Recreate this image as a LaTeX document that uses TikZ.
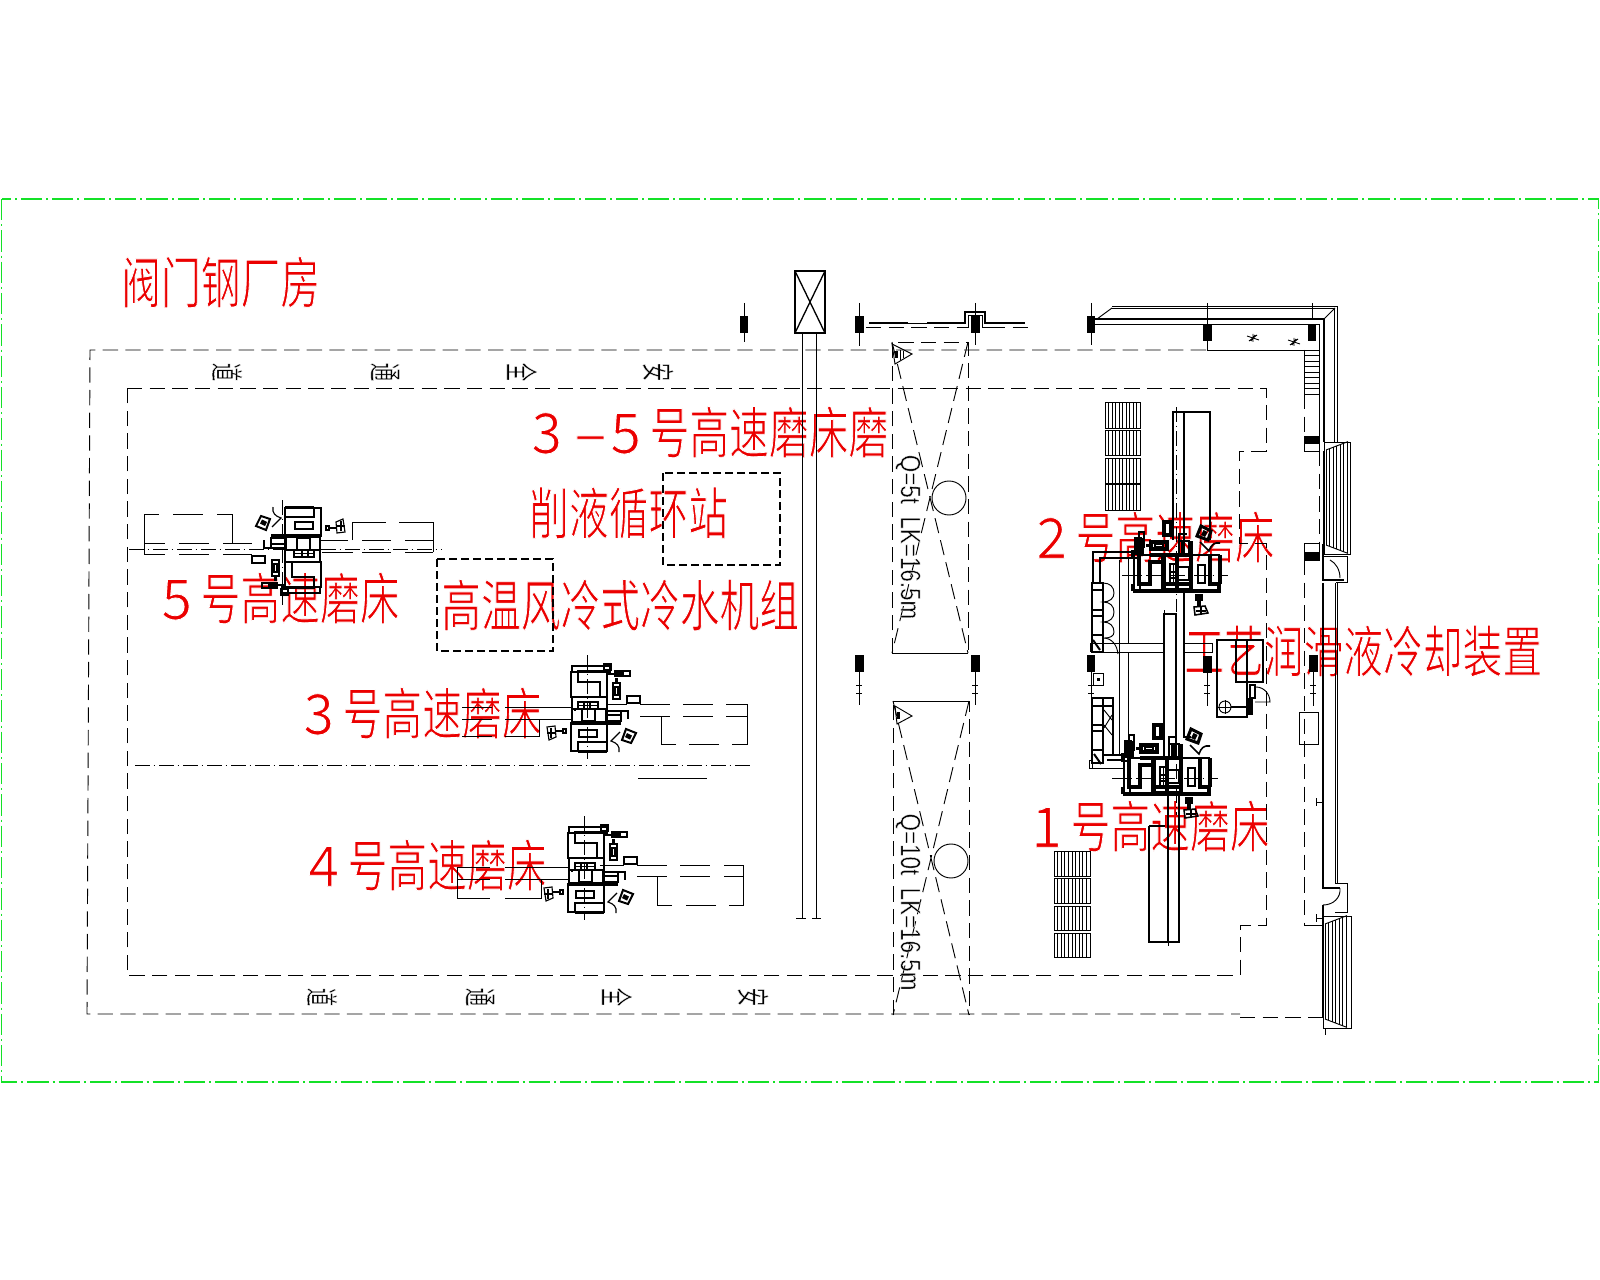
\documentclass[tikz,border=0pt]{standalone}
\usepackage{fontspec}
\setmainfont{Liberation Sans}
\newfontfamily\cjkred[FakeStretch=0.71]{Noto Sans CJK SC}
\newfontfamily\cjkblk{Noto Sans CJK SC}
\definecolor{cadgreen}{RGB}{20,225,40}
\definecolor{cadred}{RGB}{235,0,0}
\newcommand\slim[1]{\special{pdf:code 2 Tr 1 1 1 RG #1 w}}
\newcommand\dg[1]{\makebox[29.6pt][l]{\scalebox{1.4}[1]{\slim{0.6}#1}}\slim{0.6}}
\tikzset{
 th/.style={line width=0.7pt,black},
 tk/.style={line width=1.5pt,black},
 vk/.style={line width=2.6pt,black},
 gth/.style={line width=0.85pt,black},
 gtk/.style={line width=1.5pt,black},
 dsh/.style={line width=0.7pt,black,dash pattern=on 11.5pt off 5.5pt},
 ctr/.style={line width=0.6pt,black,dash pattern=on 11pt off 3pt on 1pt off 3pt},
 frm/.style={line width=0.9pt,cadgreen,dash pattern=on 16pt off 3pt on 1.5pt off 3pt},
 redlabel/.style={text=cadred,anchor=west,inner sep=0pt,font=\cjkred\fontsize{42}{42}\selectfont},
 lane/.style={inner sep=0pt,rotate=-90,xscale=.55,transform shape,font=\cjkblk\fontsize{25}{25}\selectfont},
 crane/.style={inner sep=0pt,rotate=-90,xscale=.8,transform shape,font=\fontsize{21}{21}\selectfont}
}
\newcommand\grinderbody{
 \draw[gth] (-16,-38) rectangle (20,-13);
 \draw[gth] (-15,-44) rectangle (23,-38);
 \draw[gth] (17,-46) rectangle (24,-40);
 \draw[gtk] (23,-39) -- (-9,-39) -- (-9,-28) -- (13,-28) -- (13,-13);
 \draw[gtk] (20,-28) -- (20,-13);
 \draw[gth] (-15,-13) rectangle (20,13);
 \draw[gth] (-9,-8) rectangle (11,-1);
 \draw[gth] (-9,-4.5) -- (11,-4.5) (-3,-8) -- (-3,-1) (3,-8) -- (3,-1);
 \draw[gtk] (-15,-1) -- (20,-1);
 \draw[gth] (-5,-1) rectangle (8,11);
 \draw[gtk] (-12,-1.5) -- (-12,0.5);
 \draw[gth] (-16,13) rectangle (20,41);
 \draw[gth] (-8,20) rectangle (10,27);
 \draw[gtk] (-9,41) -- (-9,32) -- (21,32);
 \draw[gtk] (-9,42) -- (20,42);
 \draw[vk] (-15,13) -- (34,13);
 \draw[gth] (19,1) rectangle (34,11);
 \draw[gth] (19,5) -- (34,5);
 \draw[gth] (34,1) -- (41,1) -- (41,9);
 \draw[gtk] (20,-36) -- (27,-36);
 \fill[black] (27,-40) rectangle (36,-33);
 \draw[gth] (36,-39) rectangle (43,-34);
 \draw[gtk] (26,-27) rectangle (33,-11);
 \fill[black] (28,-32) rectangle (31,-26);
 \draw[gth] (28,-23) rectangle (31,-15);
 \draw[gtk] (40,-14) rectangle (53,-7);
 \draw[gtk] (35,30) -- (39,19) -- (49,23) -- (44,33) -- cycle;
 \fill[black] (38,27) -- (40,23) -- (45,25.5) -- (43,29.5) -- cycle;
 \draw[gth] (33,22) -- (24,31) .. controls (30,33) and (33,36) .. (32,42);
 \draw[gth] (-40,17) -- (-32,16) -- (-31,27) -- (-38,30) -- cycle;
 \draw[gth] (-40,23) -- (-31,23) (-36,18) -- (-36,28);
 \draw[gtk] (-31,21) -- (-24,21);
 \draw[gtk] (-24,19) rectangle (-21,23);
}
\newcommand\grinder[4]{%
 \begin{scope}[shift={(#1,#2)},x={#3},y={#4}]\grinderbody\end{scope}}
\newcommand\heavygrinder[4]{%
 \begin{scope}[shift={(#1,#2)},x={#3},y={#4},
   gth/.style={line width=1.15pt,black},gtk/.style={line width=2.3pt,black}]
 \grinderbody
 \fill[black] (19,3) rectangle (35,7);
 \fill[black] (20,-44) rectangle (38,-36);
 \draw[gtk] (-15,-15) rectangle (20,13);
 \draw[gtk] (-16,-45) -- (-16,41) -- (-9,41);
 \draw[gtk] (-9,-13) -- (-9,13);
 \draw[gtk] (-16,-45) -- (-9,-45);
 \end{scope}}
\newcommand\pillar[3]{%
 \fill[black] ({#1-#3},#2) rectangle ({#1+#3},{#2+17});}
\newcommand\louver[4]{%
 \draw[th] (#1,#2) rectangle (#3,#4);
 \foreach \k in {1,...,9}{\draw[th] ({#1+\k*(#3-#1)/10},#2) -- ({#1+\k*(#3-#1)/10},#4);}}
\newcommand\hatchwin[3]{%
 \foreach \k in {0,...,6}{%
  \pgfmathsetmacro\xx{#1+\k*3.5}\pgfmathsetmacro\tp{#2-(\xx-#1)*0.38}\pgfmathsetmacro\bt{#3+(\xx-#1)*0.38}%
  \draw[th] (\xx,\tp) -- (\xx,\bt);}
 \draw[th] (#1,#2) -- ({#1+22},{#2-8.4}) (#1,#3) -- ({#1+22},{#3+8.4});}
\newcommand\tickline[3]{%
 \draw[ctr] (#1,#2) -- (#1,{#2+#3});
 \draw[th] ({#1-3},{#2+13}) -- ({#1+3},{#2+13}) ({#1-3},{#2+21}) -- ({#1+3},{#2+21}) (#1,{#2+8}) -- (#1,{#2+#3});}
\begin{document}
\begin{tikzpicture}[x=0.75pt,y=-0.75pt]
\useasboundingbox (0,0) rectangle (1600,1280);
\fill[white] (0,0) rectangle (1600,1280);
% red labels
\node[redlabel] (lbltitle) at (121,282) {\slim{0.6}阀门钢厂房};
\node[redlabel] (lblstn) at (531,432) {\slim{0.6}\dg{3}\makebox[29.6pt][c]{\scalebox{.85}[1]{\slim{0.6}—}}\slim{0.6}\dg{5}号高速磨床磨};
\node[redlabel] (lblstnb) at (529,513) {\slim{0.6}削液循环站};
\node[redlabel] (lbltwo) at (1036,537) {\slim{0.6}\dg{2}号高速磨床};
\node[redlabel] (lblfive) at (161,598) {\slim{0.6}\dg{5}号高速磨床};
\node[redlabel] (lblchill) at (441,605) {\slim{0.6}高温风冷式冷水机组};
\node[redlabel] (lblcool) at (1184,651) {\slim{0.6}工艺润滑液冷却装置};
\node[redlabel] (lblthree) at (303,713) {\slim{0.6}\dg{3}号高速磨床};
\node[redlabel] (lblfour) at (308,865) {\slim{0.6}\dg{4}号高速磨床};
\node[redlabel] (lblone) at (1031,826) {\slim{0.6}\dg{1}号高速磨床};
% drawing frame
\draw[frm] (1.5,199) rectangle (1598.5,1082);
% safety lanes
\draw[dsh] (1206,350) -- (90,350) -- (87,1014) -- (1240,1014);
\draw[dsh] (1240,1017) -- (1323,1017);
\draw[dsh] (127,388) -- (1266,388) -- (1266,451) -- (1239,451) -- (1239,543) -- (1266,543) -- (1266,925) -- (1240,925) -- (1240,975) -- (127,975) -- cycle;
\foreach \nm/\xx/\yy/\tx in {ta/658/372/安,tb/522/372/全,tc/385/372/通,td/227/372/道,ba/753/997/安,bb/617/997/全,bc/480/997/通,bd/322/997/道}
 {\node[lane] (\nm) at (\xx,\yy) {\slim{0.3}\tx};}
% cranes
\draw[dsh] (892,653) -- (892,342) -- (968,342) -- (968,653);
\draw[th] (892,653) -- (968,653);
\draw[dsh] (892,342) -- (968,653) (968,342) -- (892,653);
\draw[th] (949,498) circle[radius=17];
\draw[th] (892,344) -- (912,354) -- (895,364) -- cycle;
\fill[black] (895,351) rectangle (898,358);
\draw[th] (900,350) -- (900,360) (903,351) -- (903,358);
\node[crane] (craneA) at (908,537) {\slim{0.3}Q=5t\ \ LK=16.5m};
\draw[dsh] (893,1015) -- (893,701) -- (969,701) -- (969,1015);
\draw[th] (893,701) -- (969,701);
\draw[dsh] (893,701) -- (969,1015) (969,701) -- (893,1015);
\draw[th] (951,861) circle[radius=17];
\draw[th] (895,706) -- (912,716) -- (897,724) -- cycle;
\fill[black] (897,712) rectangle (900,719);
\node[crane] (craneB) at (908,902) {\slim{0.3}Q=10t\ \ LK=16.5m};
% rail with box
\draw[tk] (795,271) rectangle (825,333);
\draw[line width=1pt] (795,271) -- (825,333) (825,271) -- (795,333);
\draw[th] (802,333) -- (802,918) (816,333) -- (816,918);
\draw[th] (796,918) -- (806,918) (812,918) -- (821,918);
% pillars
\draw[ctr] (744,303) -- (744,345);
\pillar{744}{316}{4}
\draw[th] (859,303) -- (859,346); \pillar{859}{316}{4.5}
\draw[th] (975,303) -- (975,345); \pillar{975}{316}{4.5}
\draw[th] (1091,303) -- (1091,345); \pillar{1091}{316}{4}
\draw[th] (1207,303) -- (1207,350); \pillar{1207}{324}{4.5}
\draw[th] (1312,303) -- (1312,319); \pillar{1312}{324}{4}
\foreach \xx in {859,975}{\pillar{\xx}{655}{4.5}\tickline{\xx}{672}{33}}
\pillar{1091}{655}{4}\tickline{1091}{672}{30}
\pillar{1207}{656}{4.5}\tickline{1207}{672}{34}
\pillar{1313}{655}{4.5}\tickline{1313}{672}{34}
% upper wall
\draw[line width=1.2pt] (869,323) -- (908,323) (927,323) -- (965,323) -- (965,312) -- (985,312) -- (985,323) -- (1025,323);
\draw[th] (908,323) -- (927,323);
\draw[dsh] (866,327) -- (966,327);
\draw[th] (966,327) -- (968,327) -- (968,315) -- (982,315) -- (982,327) -- (990,327);
\draw[dsh] (990,327) -- (1030,327);
% corner wall
\draw[th] (1112,306) -- (1337,306) -- (1337,442);
\draw[th] (1112,308) -- (1334,308) -- (1334,442);
\draw[th] (1097,319) -- (1112,308) (1324,319) -- (1335,308);
\draw[line width=1pt] (1095,319) -- (1324,319) -- (1324,442);
\draw[th] (1095,324) -- (1319,324) -- (1319,451);
\draw[th] (1207,340) -- (1207,350) -- (1304,350);
\foreach \k in {0,...,8}{\draw[th] (1304,{350+\k*5.5}) -- (1319,{350+\k*5.5});}
\draw[th] (1304,350) -- (1304,394);
\draw[dsh] (1304,394) -- (1304,436);
\foreach \xx/\yy in {1253/338,1294/342}{
 \draw[th] ({\xx-6},{\yy-2}) -- ({\xx+6},{\yy+2}) ({\xx-4},{\yy+3}) -- ({\xx+4},{\yy-3}) ({\xx-2},{\yy+3}) -- ({\xx+2},{\yy-3}) (\xx,{\yy+4}) -- (\xx,{\yy-4});}
% windows
\draw[th] (1324,442) rectangle (1350,554);
\hatchwin{1326}{450}{545}
\draw[th] (1323,916) rectangle (1351,1028);
\hatchwin{1325}{924}{1019}
\draw[th] (1323,451) -- (1323,544);
\draw[th] (1325,1028) -- (1325,1035);
\draw[dsh] (1319,451) -- (1319,543);
\draw[th] (1304,436) rectangle (1319,451);
\fill[black] (1304,436) rectangle (1319,444);
\draw[th] (1304,543) rectangle (1319,560);
\fill[black] (1304,552) rectangle (1319,560);
\draw[dsh] (1304,560) -- (1304,925);
\draw[th] (1304,925) -- (1323,925);
% right wall and doors
\draw[line width=1pt] (1323,544) -- (1323,580) -- (1344,580);
\draw[th] (1323,556) -- (1347,556) -- (1347,582) -- (1336,582);
\draw[th] (1330,560) .. controls (1336,563) and (1340,570) .. (1340,578);
\draw[line width=1pt] (1323,583) -- (1323,888) -- (1340,888);
\draw[th] (1335,583) -- (1335,883) (1337,583) -- (1337,883);
\draw[th] (1335,883) -- (1347,883) -- (1347,912) -- (1335,912);
\draw[th] (1340,888) .. controls (1341,898) and (1333,905) .. (1323,905);
\draw[line width=1pt] (1323,905) -- (1323,1018);
\draw[th] (1299,712) rectangle (1318,744);
\draw[th] (1316,798) -- (1316,806) (1316,802) -- (1323,802);
\draw[th] (1316,914) -- (1316,922) (1316,918) -- (1323,918);
% louvers
\louver{1105}{402}{1140}{428}\louver{1105}{430}{1140}{455}\louver{1105}{458}{1140}{483}\louver{1105}{484}{1140}{510}
\louver{1054}{851}{1090}{876}\louver{1054}{878}{1090}{903}\louver{1054}{906}{1090}{930}\louver{1054}{933}{1090}{957}
% long beds right
\draw[tk] (1173,540) -- (1173,412) -- (1210,412) -- (1210,540);
\draw[tk] (1184,412) -- (1184,540);
\draw[ctr] (1176,407) -- (1176,612);
\draw[tk] (1164,760) -- (1164,614) -- (1176,614) -- (1176,760);
\draw[tk] (1184,592) -- (1184,737) -- (1191,737);
\draw[th] (1164,610) -- (1164,614);
\draw[tk] (1149,826) -- (1149,942) -- (1179,942) -- (1179,795);
\draw[tk] (1149,826) -- (1165,826);
\draw[tk] (1168,795) -- (1168,942);
\draw[th] (1168,942) -- (1168,946);
% middle floor
\draw[th] (1119,560) -- (1119,755) (1128,558) -- (1128,643) (1128,652) -- (1128,755);
\draw[th] (1090,643) -- (1164,643) (1103,652) -- (1164,652) (1184,643) -- (1212,643) -- (1212,652) -- (1184,652);
\draw[th] (1090,643) -- (1090,652);
\draw[tk] (1135,552) -- (1093,552) -- (1093,583) (1100,583) -- (1100,558) -- (1135,558);
% left column units
\draw[tk] (1092,583) rectangle (1103,652);
\draw[tk] (1092,590) -- (1103,590) (1092,610) -- (1103,610) (1092,616) -- (1103,616) (1092,635) -- (1103,635);
\draw[th] (1103,583) .. controls (1110,583) and (1114,587) .. (1114,593) .. controls (1114,598) and (1110,602) .. (1103,602) .. controls (1110,602) and (1114,606) .. (1114,612) .. controls (1114,618) and (1110,622) .. (1103,622) .. controls (1110,622) and (1114,626) .. (1114,632) .. controls (1114,636) and (1110,638) .. (1105,638);
\draw[th] (1103,638) .. controls (1112,638) and (1117,645) .. (1118,654);
\draw[tk] (1093,640) -- (1100,650);
\fill[black] (1087,655) rectangle (1095,671);
\draw[th] (1093,673) rectangle (1103,685);
\fill[black] (1097,678) rectangle (1100,681);
\draw[tk] (1092,698) rectangle (1103,763);
\draw[tk] (1103,698) rectangle (1113,755);
\draw[tk] (1092,706) -- (1113,706) (1092,725) -- (1103,725) (1092,731) -- (1103,731) (1092,750) -- (1103,750);
\draw[th] (1104,710) -- (1112,720) (1104,725) -- (1112,735) (1112,715) -- (1104,728);
\draw[th] (1089,760) rectangle (1092,768);
\draw[th] (1089,768) -- (1125,768);
\draw[tk] (1113,755) -- (1125,755) (1107,760) -- (1125,760);
\draw[tk] (1094,754) -- (1101,764);
% tank at right
\draw[tk] (1217,640) rectangle (1247,717);
\draw[tk] (1236,640) rectangle (1263,682);
\draw[th] (1225,707) circle[radius=6];
\draw[th] (1225,700) -- (1225,714) (1218,707) -- (1232,707);
\draw[tk] (1231,707) -- (1250,707);
\fill[black] (1247,698) rectangle (1253,715);
\draw[tk] (1250,685) rectangle (1255,698);
\draw[th] (1256,687) .. controls (1264,687) and (1270,694) .. (1270,702) -- (1255,702);
\draw[tk] (1154,725) rectangle (1162,737);
% machines
\grinder{587}{710}{(0.75pt,0pt)}{(0pt,-0.75pt)}
\grinder{584}{871}{(0.75pt,0pt)}{(0pt,-0.75pt)}
\grinder{305}{549}{(-0.75pt,0pt)}{(0pt,0.75pt)}
\heavygrinder{1168}{778}{(0pt,0.75pt)}{(0.75pt,0pt)}
\heavygrinder{1178}{575}{(0pt,0.75pt)}{(0.75pt,0pt)}
% centre lines of machines
\draw[ctr] (587,655) -- (587,759);
\draw[ctr] (584,816) -- (584,920);
\draw[ctr] (282,500) -- (282,605);
\draw[ctr] (129,549) -- (442,549);
\draw[ctr] (1112,778) -- (1218,778);
\draw[ctr] (1122,575) -- (1228,575);
\draw[ctr] (1176,740) -- (1176,815);
\draw[ctr] (135,765) -- (752,765);
\draw[th] (638,778) -- (707,778);
% beds of machine 5
\draw[th] (144,554) -- (144,514) -- (159,514) (173,514) -- (203,514) (217,514) -- (232,514) -- (232,543);
\draw[th] (144,543) -- (165,543) (179,543) -- (209,543) (223,543) -- (252,543);
\draw[th] (144,554) -- (165,554) (179,554) -- (209,554) (223,554) -- (252,554);
\draw[th] (352,540) -- (352,522) -- (386,522) (399,522) -- (433,522) -- (433,552);
\draw[th] (320,540) -- (348,540) (362,540) -- (391,540) (405,540) -- (433,540);
\draw[th] (322,552) -- (353,552) (362,552) -- (391,552) (405,552) -- (433,552);
% beds of machine 3
\draw[th] (607,704) -- (627,704) (640,704) -- (670,704) (683,704) -- (713,704) (726,704) -- (747,704) -- (747,744) -- (732,744) (719,744) -- (689,744) (676,744) -- (661,744) -- (661,716);
\draw[th] (640,716) -- (670,716) (683,716) -- (713,716) (726,716) -- (747,716);
\draw[th] (505,707) -- (571,707) (505,719) -- (571,719) (462,707) -- (492,707) (462,719) -- (492,719);
\draw[th] (539,719) -- (539,736) -- (505,736) (492,736) -- (462,736);
% beds of machine 4
\draw[th] (600,865) -- (624,865) (637,865) -- (667,865) (680,865) -- (710,865) (724,865) -- (743,865) -- (743,905) -- (729,905) (716,905) -- (686,905) (672,905) -- (657,905) -- (657,876);
\draw[th] (637,876) -- (667,876) (680,876) -- (710,876) (724,876) -- (743,876);
\draw[th] (505,867) -- (568,867) (505,879) -- (568,879) (457,867) -- (490,867) (457,879) -- (490,879);
\draw[th] (457,867) -- (457,898) -- (490,898) (505,898) -- (541,898) -- (541,879);
% stations
\draw[line width=1pt,dash pattern=on 6pt off 3pt] (663,473) rectangle (780,565);
\draw[line width=1pt,dash pattern=on 6pt off 3pt] (437,559) rectangle (553,651);
\end{tikzpicture}
\end{document}
